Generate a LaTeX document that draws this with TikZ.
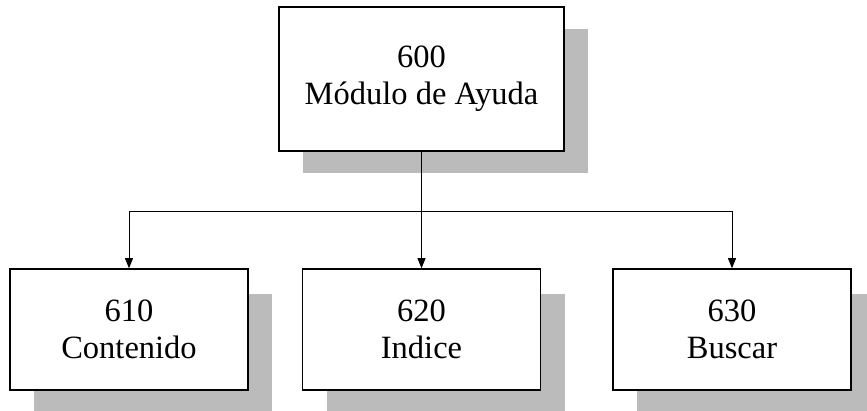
\documentclass[tikz,border=0pt]{standalone}
\usepackage{fontspec}
\setmainfont{Liberation Serif}
\usetikzlibrary{arrows.meta,shadows}
\definecolor{shadowc}{HTML}{BBBBBB}
\begin{document}
\begin{tikzpicture}[x=1pt,y=-1pt,
  box/.style={draw=black, line width=1.6pt, fill=white, align=center,
    inner sep=0pt, font=\fontsize{32.5}{37}\selectfont},
  bigbox/.style={box, minimum width=285pt, minimum height=144pt,
    drop shadow={shadow xshift=24pt, shadow yshift=-22pt, fill=shadowc, opacity=1, draw=none}},
  smallbox/.style={box, minimum width=238pt, minimum height=121pt,
    drop shadow={shadow xshift=24pt, shadow yshift=-25pt, fill=shadowc, opacity=1, draw=none}},
  conn/.style={draw=black, line width=0.8pt},
  arr/.style={conn, -{Triangle[width=8pt,length=10pt]}}]
\useasboundingbox (0,0) rectangle (867,410);
\node[bigbox] (top) at (421.5,79) {600\\Módulo de Ayuda};
\node[smallbox] (a) at (129,329.5) {610\\Contenido};
\node[smallbox] (b) at (421.5,329.5) {620\\Indice};
\node[smallbox] (c) at (732,329.5) {630\\Buscar};
\coordinate (j) at (421.5,211);
\draw[conn] (top.south) -- (j);
\draw[arr] (j) -| (a.north);
\draw[arr] (j) -- (b.north);
\draw[arr] (j) -| (c.north);
\end{tikzpicture}
\end{document}
